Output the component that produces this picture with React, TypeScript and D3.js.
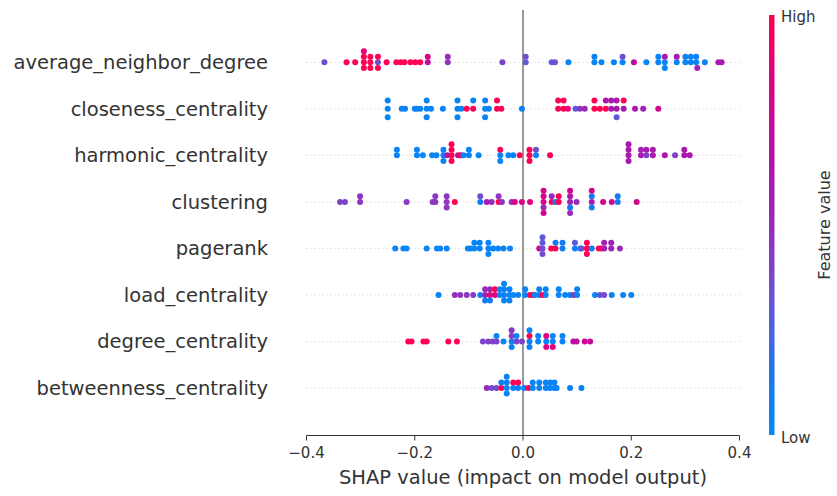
import React from 'react';
import * as d3 from 'd3';

// feature names, top to bottom
const features = [
  'average_neighbor_degree',
  'closeness_centrality',
  'harmonic_centrality',
  'clustering',
  'pagerank',
  'load_centrality',
  'degree_centrality',
  'betweenness_centrality',
];

// [shap value, normalised feature value]
const avgNeighborDegree: [number, number][] = [
  [-0.367, 0.35], [-0.326, 1], [-0.31, 1],
  [-0.294, 1], [-0.294, 1], [-0.294, 1], [-0.294, 0.9],
  [-0.282, 1], [-0.282, 1], [-0.282, 1],
  [-0.268, 0.35], [-0.268, 1], [-0.268, 1],
  [-0.252, 1], [-0.234, 1], [-0.226, 1], [-0.219, 1],
  [-0.208, 1], [-0.199, 1], [-0.19, 1],
  [-0.176, 0.7], [-0.176, 0.85],
  [-0.139, 0.45], [-0.139, 0.5],
  [-0.038, 0.4],
  [0.005, 0.3], [0.005, 0.35],
  [0.053, 0.3], [0.059, 0.35], [0.084, 0.05],
  [0.132, 0.05], [0.132, 0.05], [0.145, 0.05],
  [0.168, 0.05], [0.184, 0.05], [0.184, 0.35],
  [0.205, 0.7], [0.228, 0.05],
  [0.25, 0.05], [0.25, 0.05],
  [0.262, 0.05], [0.262, 0.6], [0.262, 0.05],
  [0.284, 0.05], [0.284, 0.6],
  [0.3, 0.05], [0.3, 0.05], [0.31, 0.05], [0.31, 0.05],
  [0.32, 0.05], [0.32, 0.05], [0.322, 0.55],
  [0.336, 0.05], [0.361, 0.6], [0.367, 0.6],
];

const closeness: [number, number][] = [
  [-0.25, 0.05], [-0.25, 0.05], [-0.25, 0.05],
  [-0.224, 0.05], [-0.218, 0.05],
  [-0.2, 0.05], [-0.196, 0.05], [-0.19, 0.05],
  [-0.178, 0.05], [-0.178, 0.05], [-0.178, 0.05], [-0.17, 0.05],
  [-0.148, 0.05],
  [-0.121, 0.05], [-0.121, 0.05], [-0.121, 0.05], [-0.114, 0.05],
  [-0.104, 1], [-0.092, 1], [-0.092, 0.05],
  [-0.07, 0.05], [-0.07, 0.05], [-0.07, 0.05], [-0.063, 0.05],
  [-0.048, 1], [-0.048, 1], [-0.04, 1],
  [-0.002, 0.05],
  [0.065, 1], [0.065, 1], [0.075, 1], [0.075, 1], [0.083, 0.9],
  [0.097, 0.3], [0.105, 0.45], [0.114, 0.5],
  [0.132, 1], [0.132, 1], [0.142, 1],
  [0.153, 1], [0.153, 0.6], [0.163, 0.6], [0.163, 0.6],
  [0.173, 0.6], [0.173, 0.6], [0.173, 0.3],
  [0.186, 0.6], [0.186, 1],
  [0.207, 0.6], [0.222, 0.55], [0.25, 0.75],
];

const harmonic: [number, number][] = [
  [-0.233, 0.05], [-0.233, 0.05],
  [-0.196, 0.05], [-0.196, 0.05], [-0.185, 0.05],
  [-0.168, 0.05], [-0.16, 0.05],
  [-0.147, 0.05], [-0.147, 0.05], [-0.147, 0.05], [-0.14, 0.6],
  [-0.132, 1], [-0.132, 1], [-0.132, 1], [-0.132, 1],
  [-0.12, 0.6], [-0.115, 1], [-0.11, 0.05],
  [-0.1, 0.05], [-0.1, 0.05], [-0.082, 0.05],
  [-0.042, 0.05], [-0.042, 1], [-0.042, 0.05],
  [-0.027, 0.05], [-0.018, 0.05], [-0.006, 1],
  [0.012, 1], [0.012, 1], [0.012, 1],
  [0.024, 0.05], [0.024, 0.35], [0.05, 1],
  [0.195, 0.6], [0.195, 0.6], [0.195, 0.6], [0.195, 0.6],
  [0.218, 0.6], [0.218, 0.55], [0.228, 0.4], [0.228, 0.6],
  [0.24, 0.6], [0.24, 0.6],
  [0.262, 0.65], [0.281, 0.4],
  [0.298, 0.6], [0.298, 0.6], [0.308, 0.6],
];

const clustering: [number, number][] = [
  [-0.338, 0.4], [-0.329, 0.4],
  [-0.301, 0.45], [-0.301, 0.45],
  [-0.215, 0.45],
  [-0.167, 0.45], [-0.162, 0.45], [-0.162, 0.45],
  [-0.141, 0.45], [-0.141, 0.45], [-0.141, 0.45], [-0.126, 1],
  [-0.079, 0.1], [-0.079, 0.35],
  [-0.067, 0.6], [-0.058, 0.5], [-0.045, 1], [-0.045, 0.45], [-0.039, 0.45],
  [-0.021, 0.5], [-0.015, 0.8],
  [-0.002, 0.85], [0.013, 0.85],
  [0.038, 0.8], [0.038, 0.8], [0.038, 0.5], [0.038, 0.8], [0.038, 0.8],
  [0.053, 1], [0.053, 0.5], [0.06, 0.1], [0.066, 1], [0.066, 1],
  [0.087, 0.55], [0.087, 0.6], [0.087, 0.1], [0.087, 0.8], [0.087, 0.5],
  [0.099, 0.5],
  [0.127, 0.6], [0.127, 0.1], [0.127, 0.1], [0.127, 0.8],
  [0.148, 0.8], [0.164, 0.75],
  [0.175, 0.1], [0.175, 0.1],
  [0.21, 0.8],
];

const pagerank: [number, number][] = [
  [-0.236, 0.05], [-0.221, 0.05], [-0.215, 0.05],
  [-0.178, 0.05], [-0.159, 0.05], [-0.153, 0.05], [-0.141, 0.05],
  [-0.102, 0.05], [-0.097, 0.05], [-0.09, 0.05], [-0.09, 0.05],
  [-0.08, 0.05], [-0.08, 0.05],
  [-0.064, 0.05], [-0.064, 0.05], [-0.064, 0.05],
  [-0.055, 0.05], [-0.046, 0.05], [-0.036, 0.05], [-0.024, 0.05],
  [0.03, 0.75],
  [0.036, 0.35], [0.036, 0.3], [0.036, 0.35], [0.036, 0.3],
  [0.052, 1], [0.06, 1], [0.06, 0.1],
  [0.073, 0.1], [0.073, 0.1],
  [0.096, 0.1], [0.096, 0.3], [0.106, 0.1], [0.108, 0.3],
  [0.118, 1], [0.118, 1], [0.118, 1],
  [0.127, 0.1], [0.14, 1], [0.145, 1],
  [0.15, 0.55], [0.15, 0.55],
  [0.163, 0.55], [0.163, 0.55],
  [0.179, 0.5],
];

const loadCentrality: [number, number][] = [
  [-0.156, 0.05],
  [-0.126, 0.5], [-0.116, 0.45], [-0.104, 0.45], [-0.092, 0.4],
  [-0.079, 0.05],
  [-0.07, 0.55], [-0.07, 0.5], [-0.07, 0.1],
  [-0.061, 0.9], [-0.061, 0.5], [-0.061, 0.1],
  [-0.052, 0.85], [-0.052, 1],
  [-0.043, 0.05], [-0.043, 0.05],
  [-0.035, 0.05], [-0.035, 0.05], [-0.035, 0.05], [-0.035, 0.05],
  [-0.025, 0.05], [-0.025, 0.05], [-0.025, 0.05],
  [-0.018, 0.05], [-0.009, 0.05],
  [0.004, 0.05], [0.004, 0.05],
  [0.013, 1], [0.019, 1], [0.022, 0.05],
  [0.03, 0.05], [0.03, 0.05], [0.036, 1],
  [0.042, 0.05], [0.042, 0.05],
  [0.066, 0.05], [0.066, 0.05], [0.078, 0.05], [0.087, 0.05],
  [0.094, 0.5], [0.1, 0.05], [0.1, 0.05],
  [0.133, 0.05], [0.142, 0.35], [0.15, 0.35],
  [0.164, 0.05], [0.185, 0.05], [0.2, 0.05],
];

const degreeCentrality: [number, number][] = [
  [-0.212, 1], [-0.206, 1], [-0.184, 1], [-0.178, 1],
  [-0.138, 1], [-0.122, 1],
  [-0.074, 0.4], [-0.064, 0.4], [-0.056, 0.4],
  [-0.049, 0.4], [-0.049, 0.05],
  [-0.036, 0.05],
  [-0.021, 0.05], [-0.021, 0.45], [-0.021, 0.05], [-0.021, 0.45],
  [-0.012, 0.4], [-0.012, 0.05],
  [-0.002, 0.4],
  [0.012, 0.05], [0.012, 1], [0.012, 0.05], [0.012, 0.05],
  [0.028, 0.05], [0.028, 0.05],
  [0.043, 0.05], [0.043, 0.85], [0.043, 0.85],
  [0.055, 0.05], [0.055, 0.05], [0.055, 0.85],
  [0.073, 0.05], [0.073, 0.05],
  [0.093, 0.7], [0.099, 0.7], [0.114, 0.75], [0.124, 0.75],
];

const betweenness: [number, number][] = [
  [-0.067, 0.5], [-0.058, 0.35], [-0.049, 0.35],
  [-0.04, 1], [-0.04, 0.05],
  [-0.03, 0.05], [-0.03, 0.05], [-0.03, 0.05], [-0.03, 0.05],
  [-0.018, 0.05], [-0.018, 1],
  [-0.009, 0.05], [-0.009, 1],
  [0.002, 0.05], [0.01, 1],
  [0.018, 0.05], [0.018, 0.05],
  [0.03, 0.05], [0.03, 0.05],
  [0.042, 0.05], [0.042, 0.05],
  [0.05, 0.05], [0.05, 0.05],
  [0.058, 0.05], [0.058, 0.05], [0.062, 0.05],
  [0.087, 0.05], [0.108, 0.05],
];

const rowsData = [avgNeighborDegree, closeness, harmonic, clustering, pagerank, loadCentrality, degreeCentrality, betweenness];
const xTicks = [-0.4, -0.2, 0.0, 0.2, 0.4];

// red_blue colour map, sampled from the colour bar
const cmapStops = ['#008afb', '#1a78ef', '#5a5cdc', '#8a3ac4', '#a41db2', '#c00a9f', '#e00080', '#ff0052'];

const W = 837;
const H = 496;
const FONT = 'DejaVu Sans, sans-serif';

const color = d3.piecewise(d3.interpolateRgb, cmapStops);

// shap-style beeswarm: stack points that fall into the same bin
function swarm(vals: [number, number][]) {
  const xs = vals.map((d) => d[0]);
  const lo = d3.min(xs)!, hi = d3.max(xs)!;
  const quant = xs.map((v) => Math.round((100 * (v - lo)) / (hi - lo + 1e-8)));
  const inds = d3.range(vals.length).sort((a, b) => quant[a] - quant[b] || a - b);
  const ys = new Array(vals.length).fill(0);
  let layer = 0, last = -1;
  inds.forEach((i) => {
    if (quant[i] !== last) layer = 0;
    ys[i] = Math.ceil(layer / 2) * ((layer % 2) * 2 - 1);
    layer++;
    last = quant[i];
  });
  const mx = (d3.max(ys) as number) + 1;
  return ys.map((y) => (y * 0.9 * 0.4) / mx);
}

const App = () => {
  const x = d3.scaleLinear().domain([-0.4, 0.4]).range([306.5, 739.5]);
  const y = d3.scaleLinear().domain([0, features.length - 1]).range([62.3, 388]);
  const rowStep = y(1) - y(0);
  const axisY = 435.5;

  const cbTop = 15, cbBottom = 435;
  const stops = d3.range(0, 1.001, 0.05);

  return (
    <svg width={W} height={H} style={{ position: 'absolute', left: 0, top: 0, background: '#fff' }}>
      <defs>
        <linearGradient id="cb" x1="0" y1="1" x2="0" y2="0">
          {stops.map((t) => (
            <stop key={t} offset={t} stopColor={color(t)} />
          ))}
        </linearGradient>
      </defs>

      {/* dotted row guides */}
      {features.map((f, i) => (
        <line key={f} x1={x(-0.4)} x2={x(0.4)} y1={y(i)} y2={y(i)}
          stroke="#ccc" strokeWidth={1} strokeDasharray="1,3" />
      ))}

      {/* zero line */}
      <line x1={x(0)} x2={x(0)} y1={10} y2={axisY} stroke="#999" strokeWidth={2} />

      {/* points */}
      {rowsData.map((vals, i) => {
        const offs = swarm(vals);
        return (
          <g key={features[i]}>
            {vals.map((d, j) => (
              <circle key={j} cx={x(d[0])} cy={y(i) - offs[j] * rowStep}
                r={3} fill={color(d[1])} />
            ))}
          </g>
        );
      })}

      {/* feature labels */}
      {features.map((f, i) => (
        <text key={f} x={268} y={y(i)} dy="0.35em" textAnchor="end"
          fontFamily={FONT} fontSize={19.5} fill="#333">{f}</text>
      ))}

      {/* x axis */}
      <line x1={x(-0.4)} x2={x(0.4)} y1={axisY} y2={axisY} stroke="#333" strokeWidth={1} />
      {xTicks.map((t) => (
        <g key={t} transform={`translate(${x(t)},${axisY})`}>
          <line y2={5} stroke="#333" />
          <text y={22} textAnchor="middle" fontFamily={FONT} fontSize={15} fill="#333">
            {d3.format('.1f')(t).replace('-', '\u2212')}
          </text>
        </g>
      ))}
      <text x={x(0)} y={484} textAnchor="middle" fontFamily={FONT} fontSize={19.5} fill="#333">
        SHAP value (impact on model output)
      </text>

      {/* colour bar */}
      <rect x={769} y={cbTop} width={5.5} height={cbBottom - cbTop} fill="url(#cb)" />
      <text x={781} y={cbTop + 2} dy="0.35em" fontFamily={FONT} fontSize={15} fill="#333">High</text>
      <text x={781} y={cbBottom + 3} dy="0.35em" fontFamily={FONT} fontSize={15} fill="#333">Low</text>
      <text transform={`translate(824,${(cbTop + cbBottom) / 2}) rotate(-90)`} textAnchor="middle"
        dy="0.35em" fontFamily={FONT} fontSize={16} fill="#333">Feature value</text>
    </svg>
  );
};

export default App;
